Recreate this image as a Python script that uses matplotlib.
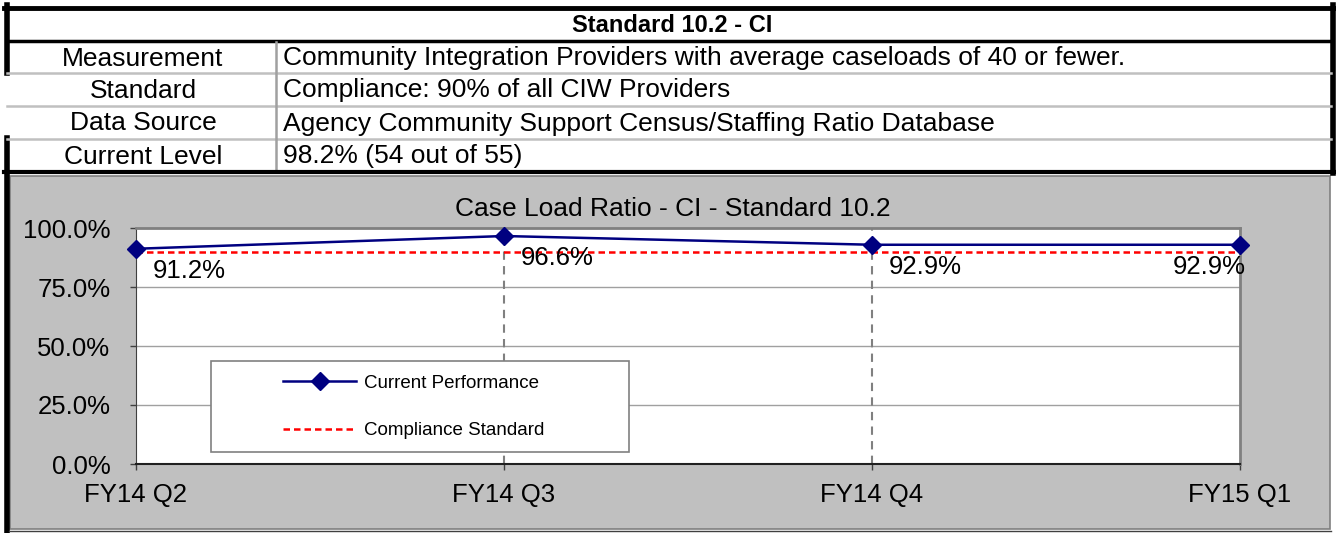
import matplotlib
matplotlib.use('Agg')
import matplotlib.pyplot as plt
from matplotlib.patches import Rectangle
import numpy as np

plt.rcParams['font.family'] = ['Liberation Sans', 'DejaVu Sans']

# data
table_title = 'Standard 10.2 - CI'
row_labels = ['Measurement', 'Standard', 'Data Source', 'Current Level']
row_values = ['Community Integration Providers with average caseloads of 40 or fewer.',
              'Compliance: 90% of all CIW Providers',
              'Agency Community Support Census/Staffing Ratio Database',
              '98.2% (54 out of 55)']
chart_title = 'Case Load Ratio - CI - Standard 10.2'
quarters = ['FY14 Q2', 'FY14 Q3', 'FY14 Q4', 'FY15 Q1']
performance = [91.2, 96.6, 92.9, 92.9]
standard = [90, 90, 90, 90]
yticks = [0, 25, 50, 75, 100]

W, H = 1336, 533
fig = plt.figure(figsize=(W / 100, H / 100), dpi=100)

# background axes in pixel units (y down)
bg = fig.add_axes([0, 0, 1, 1], zorder=-1)
bg.set_xlim(0, W)
bg.set_ylim(H, 0)
bg.axis('off')

# table
bg.plot([4, W], [7.5, 7.5], color='black', lw=3.5)
bg.plot([W - 3, W - 3], [5, 173], color='black', lw=4)
bg.plot([6.5, 6.5], [5, 73], color='black', lw=4)
bg.plot([6.5, 6.5], [138, H], color='black', lw=4)
bg.plot([9, W - 6], [40.5, 40.5], color='black', lw=2.5)
for y in [73, 106, 139]:
    bg.plot([7, W - 5], [y, y], color='#c0c0c0', lw=1.8)
bg.plot([276, 276], [42, 171], color='#a0a0a0', lw=1.8)
bg.plot([4, W], [172, 172], color='black', lw=3)
bg.text(672, 25, table_title, ha='center', va='center', fontsize=17, fontweight='bold')
row_y = [58.5, 90.5, 123.5, 156.5]
for lab, val, y in zip(row_labels, row_values, row_y):
    bg.text(143, y, lab, ha='center', va='center', fontsize=19)
    bg.text(283, y, val, ha='left', va='center', fontsize=19)

# chart area
bg.add_patch(Rectangle((10, 176), 1320, 353, facecolor='#c0c0c0', edgecolor='#808080', lw=1.2))
bg.plot([9, 1331], [531, 531], color='#404040', lw=1)
bg.text(673, 209, chart_title, ha='center', va='center', fontsize=19)

# plot area
left, right, top, bottom = 136, 1240, 228, 464
ax = fig.add_axes([left / W, 1 - bottom / H, (right - left) / W, (bottom - top) / H])
x = np.arange(len(quarters))
ax.plot(x, standard, color='red', lw=1.8, linestyle=(0, (2.6, 1.6)), label='Compliance Standard', zorder=3)
ax.plot(x, performance, color='#000080', lw=1.8, marker='D', markersize=9, label='Current Performance',
        clip_on=False, zorder=4)
for i, v in enumerate(performance):
    if i == len(performance) - 1:
        ax.annotate(f'{v:.1f}%', (x[i], v), xytext=(4, -16), textcoords='offset points',
                    ha='right', va='center', fontsize=18.5, zorder=5, annotation_clip=False)
    else:
        ax.annotate(f'{v:.1f}%', (x[i], v), xytext=(12, -16), textcoords='offset points',
                    ha='left', va='center', fontsize=18.5, zorder=5)

ax.set_xlim(0, len(quarters) - 1)
ax.set_ylim(0, 100)
ax.set_xticks(x)
ax.set_xticklabels(quarters)
ax.set_yticks(yticks)
ax.set_yticklabels([f'{t:.1f}%' for t in yticks])
ax.tick_params(axis='both', labelsize=18.5, direction='out', length=4.5, width=1, color='#404040')
ax.tick_params(axis='y', pad=14)
ax.tick_params(axis='x', pad=9)
for t in yticks[1:-1]:
    ax.axhline(t, color='#a0a0a0', lw=1, zorder=1)
for i in x[1:-1]:
    ax.axvline(i, color='#808080', lw=1.5, linestyle=(0, (4, 3)), zorder=1)
ax.spines['left'].set_color('#404040')
ax.spines['bottom'].set_color('#202020')
ax.spines['bottom'].set_linewidth(1.5)
ax.spines['top'].set_color('#808080')
ax.spines['right'].set_color('#808080')
ax.spines['top'].set_linewidth(2)
ax.spines['right'].set_linewidth(2)

# legend box
fig.add_artist(Rectangle((211 / W, 1 - 452 / H), 418 / W, 91 / H, transform=fig.transFigure,
                         facecolor='white', edgecolor='#808080', lw=1.2, zorder=3))
handles, labels = ax.get_legend_handles_labels()
fig.legend(handles[::-1], labels[::-1], loc='center left', bbox_to_anchor=(283 / W, 1 - 407 / H),
           frameon=False, fontsize=13.5, handlelength=3.9, handletextpad=0.4, labelspacing=1.6,
           borderpad=0, borderaxespad=0)

fig.savefig('out.png', dpi=100)
